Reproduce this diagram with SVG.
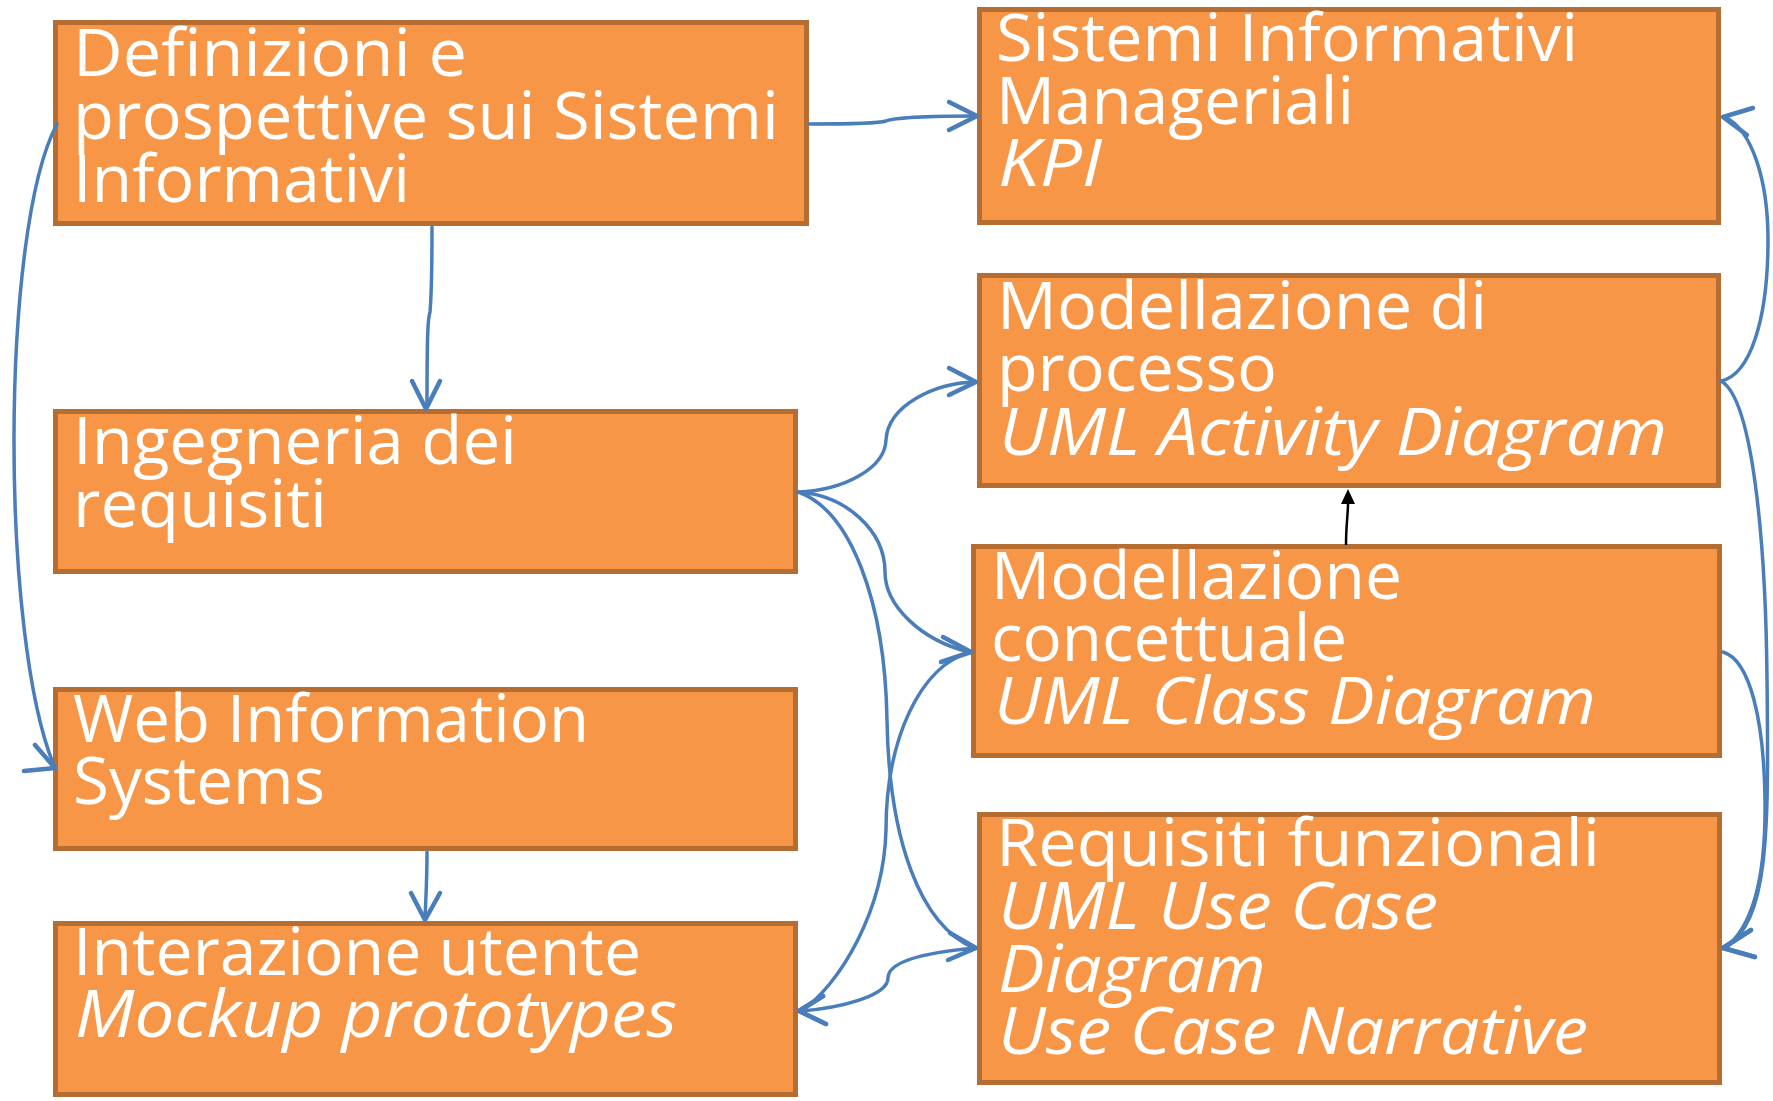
<svg xmlns="http://www.w3.org/2000/svg" width="1773" height="1101" viewBox="0 0 1773 1101">
  <style>
    .box { fill: #F79646; stroke: #B66D31; stroke-width: 5; }
    .lbl { fill: #FFFFFF; font-family: "Open Sans", "Liberation Sans", sans-serif; font-size: 65px; }
    .it { font-style: italic; }
    .wire { fill: none; stroke: #4A7EBB; stroke-width: 3.5; stroke-linecap: round; stroke-linejoin: round; }
    .head { fill: none; stroke: #4A7EBB; stroke-width: 4.5; stroke-linecap: round; stroke-linejoin: round; }
    .black { fill: none; stroke: #000000; stroke-width: 2.5; }
  </style>
  <rect width="1773" height="1101" fill="#FFFFFF"/>

  <!-- left column -->
  <g id="definizioni">
    <rect class="box" x="55.5" y="22.5" width="751" height="201"/>
    <text class="lbl" x="73" y="76" textLength="394" lengthAdjust="spacingAndGlyphs">Definizioni e</text>
    <text class="lbl" x="73" y="139" textLength="706" lengthAdjust="spacingAndGlyphs">prospettive sui Sistemi</text>
    <text class="lbl" x="73" y="202" textLength="337" lengthAdjust="spacingAndGlyphs">Informativi</text>
  </g>
  <g id="ingegneria">
    <rect class="box" x="55.5" y="411.5" width="740" height="160"/>
    <text class="lbl" x="73" y="464" textLength="444" lengthAdjust="spacingAndGlyphs">Ingegneria dei</text>
    <text class="lbl" x="73" y="527" textLength="254" lengthAdjust="spacingAndGlyphs">requisiti</text>
  </g>
  <g id="web-is">
    <rect class="box" x="55.5" y="689.5" width="740" height="159"/>
    <text class="lbl" x="73" y="742" textLength="516" lengthAdjust="spacingAndGlyphs">Web Information</text>
    <text class="lbl" x="73" y="804" textLength="252" lengthAdjust="spacingAndGlyphs">Systems</text>
  </g>
  <g id="interazione">
    <rect class="box" x="55.5" y="923.5" width="740" height="171"/>
    <text class="lbl" x="73" y="975" textLength="568" lengthAdjust="spacingAndGlyphs">Interazione utente</text>
    <text class="lbl it" x="75" y="1037" textLength="602" lengthAdjust="spacingAndGlyphs">Mockup prototypes</text>
  </g>

  <!-- right column -->
  <g id="sim">
    <rect class="box" x="979.5" y="9.5" width="739" height="213"/>
    <text class="lbl" x="996" y="61" textLength="582" lengthAdjust="spacingAndGlyphs">Sistemi Informativi</text>
    <text class="lbl" x="996" y="124" textLength="358" lengthAdjust="spacingAndGlyphs">Manageriali</text>
    <text class="lbl it" x="998" y="186" textLength="104" lengthAdjust="spacingAndGlyphs">KPI</text>
  </g>
  <g id="processo">
    <rect class="box" x="979.5" y="275.5" width="739" height="210"/>
    <text class="lbl" x="997" y="329" textLength="490" lengthAdjust="spacingAndGlyphs">Modellazione di</text>
    <text class="lbl" x="997" y="391" textLength="280" lengthAdjust="spacingAndGlyphs">processo</text>
    <text class="lbl it" x="999" y="455" textLength="668" lengthAdjust="spacingAndGlyphs">UML Activity Diagram</text>
  </g>
  <g id="concettuale">
    <rect class="box" x="973.5" y="546.5" width="746" height="209"/>
    <text class="lbl" x="991" y="599" textLength="411" lengthAdjust="spacingAndGlyphs">Modellazione</text>
    <text class="lbl" x="991" y="661" textLength="356" lengthAdjust="spacingAndGlyphs">concettuale</text>
    <text class="lbl it" x="994" y="724" textLength="602" lengthAdjust="spacingAndGlyphs">UML Class Diagram</text>
  </g>
  <g id="funzionali">
    <rect class="box" x="979.5" y="814.5" width="740" height="268"/>
    <text class="lbl" x="996" y="866" textLength="604" lengthAdjust="spacingAndGlyphs">Requisiti funzionali</text>
    <text class="lbl it" x="998" y="929" textLength="440" lengthAdjust="spacingAndGlyphs">UML Use Case</text>
    <text class="lbl it" x="998" y="992" textLength="268" lengthAdjust="spacingAndGlyphs">Diagram</text>
    <text class="lbl it" x="998" y="1054" textLength="590" lengthAdjust="spacingAndGlyphs">Use Case Narrative</text>
  </g>

  <!-- connectors -->
  <g id="connectors">
    <!-- definizioni -> sim -->
    <path class="wire" d="M809,124 C850,124 880,123 886,121 C893,118 930,116 975,116"/>
    <polyline class="head" points="949,102 977,116 949,130"/>
    <!-- definizioni -> ingegneria -->
    <path class="wire" d="M432,227 C432,270 431,300 430,312 C428,318 427,330 427,407"/>
    <polyline class="head" points="412,381 426,409 440,381"/>
    <!-- definizioni -> web IS -->
    <path class="wire" d="M57,124 C0,230 0,640 55,768"/>
    <polyline class="head" points="35,745 55,768 24,771"/>
    <!-- web IS -> interazione -->
    <path class="wire" d="M427,852 C427,880 426,895 425,918"/>
    <polyline class="head" points="411,893 425,920 440,893"/>
    <!-- ingegneria -> processo -->
    <path class="wire" d="M798,492 C845,490 885,468 886,440 C888,405 935,383 975,382"/>
    <polyline class="head" points="949,368 976,382 949,395"/>
    <!-- ingegneria -> concettuale -->
    <path class="wire" d="M798,492 C845,495 885,530 885,572 C885,605 920,640 969,652"/>
    <polyline class="head" points="943,637 971,652 941,662"/>
    <!-- ingegneria -> funzionali -->
    <path class="wire" d="M798,492 C850,510 885,600 887,720 C889,840 920,925 974,948"/>
    <polyline class="head" points="950,933 976,948 948,960"/>
    <!-- concettuale -> interazione -->
    <path class="wire" d="M971,652 C920,665 886,740 886,830 C884,910 840,985 801,1011"/>
    <polyline class="head" points="823,996 799,1011 826,1024"/>
    <!-- funzionali -> interazione -->
    <path class="wire" d="M976,948 C930,952 888,960 888,978 C888,996 840,1008 801,1011"/>
    <polyline class="head" points="823,996 799,1011 826,1024"/>
    <!-- processo -> sim -->
    <path class="wire" d="M1721,381 C1750,375 1768,320 1768,240 C1768,180 1752,130 1725,117"/>
    <polyline class="head" points="1753,108 1723,117 1747,135"/>
    <!-- processo -> funzionali -->
    <path class="wire" d="M1721,381 C1755,400 1766,560 1767,680 C1769,840 1768,920 1725,948"/>
    <polyline class="head" points="1751,930 1723,948 1755,957"/>
    <!-- concettuale -> funzionali -->
    <path class="wire" d="M1723,652 C1750,660 1764,720 1765,800 C1766,870 1755,925 1725,948"/>
    <polyline class="head" points="1751,930 1723,948 1755,957"/>
    <!-- concettuale -> processo -->
    <path class="black" d="M1346,545 C1346,525 1348,515 1348,503"/>
    <polygon points="1348,489 1341,504 1355,504" fill="#000000"/>
  </g>
</svg>
